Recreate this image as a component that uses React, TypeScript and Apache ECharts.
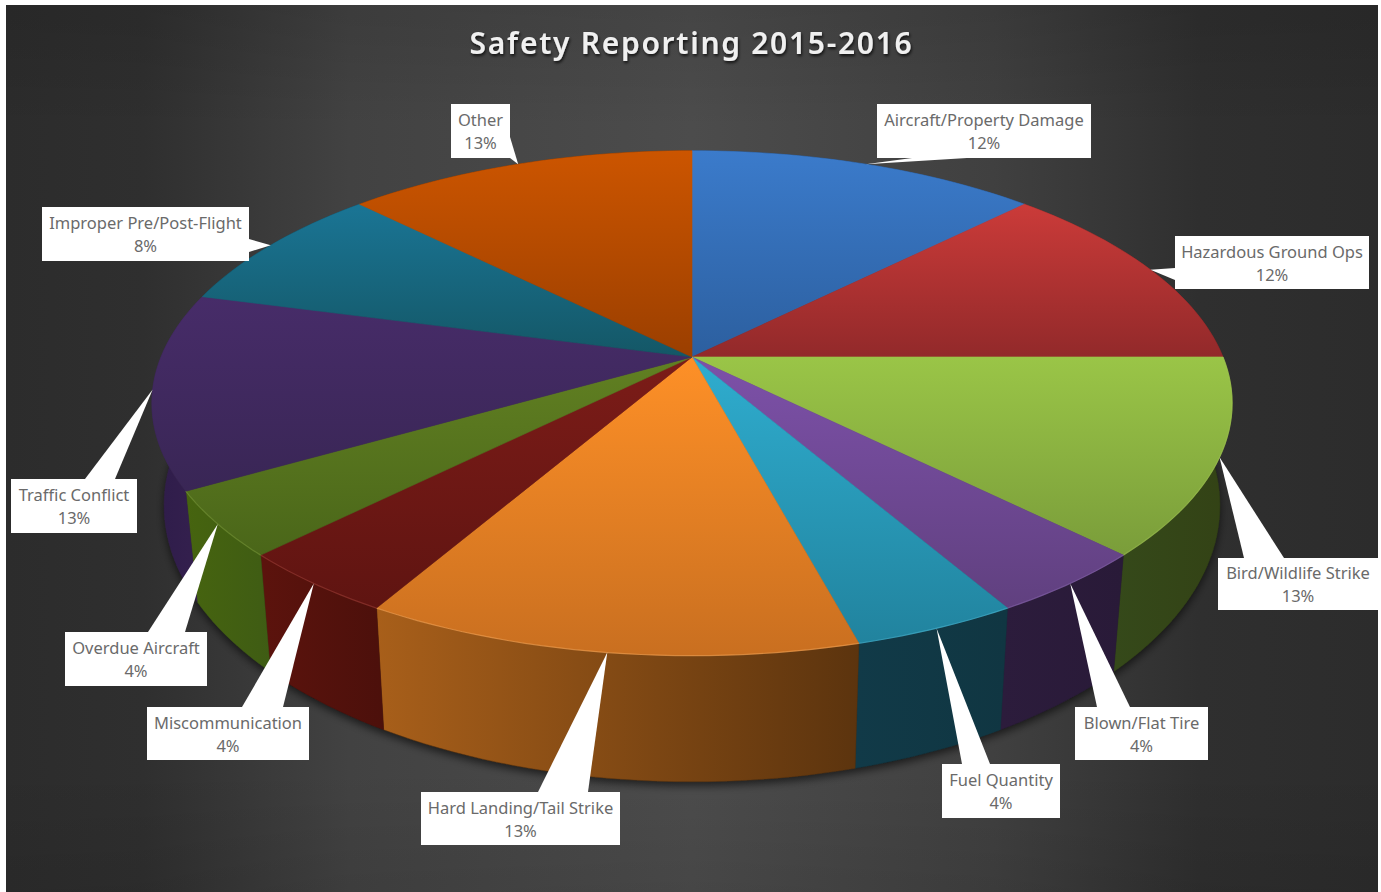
import React, { useEffect, useRef } from "react";
import * as echarts from "echarts";

const categories = ["Aircraft/Property Damage", "Hazardous Ground Ops", "Bird/Wildlife Strike", "Blown/Flat Tire", "Fuel Quantity", "Hard Landing/Tail Strike", "Miscommunication", "Overdue Aircraft", "Traffic Conflict", "Improper Pre/Post-Flight", "Other"];
const seriesValues = [12.5, 12.5, 12.5, 4.17, 4.17, 12.5, 4.17, 4.17, 12.5, 8.33, 12.5];
const percentLabels = ["12%", "12%", "13%", "4%", "4%", "13%", "4%", "4%", "13%", "8%", "13%"];
const titleText = "Safety Reporting 2015-2016";

// styling: top face gradient (light -> dark), wall gradient (left -> right)
const topColors = [
  ["#3b7bcb", "#2c5f9f"], ["#cb3b39", "#92292a"], ["#9ac547", "#7a9d3a"], ["#7d51a9", "#60407f"],
  ["#2fadcf", "#21839e"], ["#fe9027", "#c96f20"], ["#7c1c18", "#5f1411"], ["#618022", "#4a6619"],
  ["#472c69", "#392655"], ["#1a7595", "#145766"], ["#cc5500", "#9b3f00"],
];
const wallColors = [
  ["#1a3558", "#1a3558"], ["#5a1a1a", "#5a1a1a"], ["#35491a", "#334215"], ["#2c1c3c", "#291a38"],
  ["#113a48", "#103642"], ["#a85f1a", "#5c340e"], ["#5c130d", "#4c100b"], ["#46640f", "#3f5c14"],
  ["#2e1c4a", "#36214f"], ["#0d3a4a", "#0d3a4a"], ["#5a2600", "#5a2600"],
];
const rimColors = ["", "", "#a8cc58", "#8f6bb8", "#4fc0dd", "#ffb060", "#a8443c", "#7f9f3c", "", "", ""];

// layout of label boxes [x0, y0, x1, y1] and the two base points of each callout
const boxes = [
  [877, 104, 1091, 158], [1175, 236, 1369, 289], [1218, 558, 1378, 610], [1075, 707, 1208, 760],
  [942, 764, 1060, 818], [421, 792, 620, 845], [147, 707, 309, 760], [65, 632, 207, 686],
  [11, 479, 137, 533], [42, 207, 249, 261], [451, 104, 510, 158],
];
const calloutBases = [
  [[912, 158], [967, 158]], [[1175, 268], [1175, 280]], [[1244, 558], [1284, 558]], [[1097, 707], [1130, 707]],
  [[962, 764], [990, 764]], [[538, 792], [588, 792]], [[242, 707], [283, 707]], [[148, 632], [185, 632]],
  [[85, 479], [115, 479]], [[249, 239], [249, 252]], [[510, 137], [510, 158]],
];

const K = 0.183;
const TOP = { cx: 692, cy: 357, a: 531, b: 244 };
const BOTTOM = { cx: 692, cy: 455, a: 519, b: 267 };
const RAD = Math.PI / 180;

function project(p: typeof TOP, deg: number): number[] {
  const X = Math.sin(deg * RAD);
  const Y = Math.cos(deg * RAD);
  const w = 1 + K * Y;
  return [p.cx + (p.a * X) / w, p.cy - (p.b * Y) / w];
}
function arc(p: typeof TOP, from: number, to: number): number[][] {
  const n = Math.max(2, Math.ceil((to - from) / 1.5));
  const pts: number[][] = [];
  for (let i = 0; i <= n; i++) pts.push(project(p, from + ((to - from) * i) / n));
  return pts;
}

const total = seriesValues.reduce((s, v) => s + v, 0);
const starts: number[] = [];
let acc = 0;
seriesValues.forEach((v) => {
  starts.push((acc / total) * 360);
  acc += v;
});
const sweep = (v: number) => (v / total) * 360;

const vGrad = (c: string[]) => new echarts.graphic.LinearGradient(0, 0, 0, 1, [{ offset: 0, color: c[0] }, { offset: 1, color: c[1] }]);
const hGrad = (c: string[]) => new echarts.graphic.LinearGradient(0, 0, 1, 0, [{ offset: 0, color: c[0] }, { offset: 1, color: c[1] }]);

export default function App() {
  const ref = useRef<HTMLDivElement>(null);
  useEffect(() => {
    document.body.style.margin = "0";
    document.body.style.background = "#ffffff";
    const chart = echarts.init(ref.current!, null, { renderer: "svg" });
    const seriesData = categories.map((name, i) => ({ name, value: seriesValues[i] }));
    chart.setOption({
      animation: false,
      backgroundColor: "#ffffff",
      graphic: [
        {
          type: "rect",
          z: 0,
          silent: true,
          shape: { x: 6, y: 5, width: 1372, height: 887 },
          style: {
            fill: new echarts.graphic.LinearGradient(0, 0, 1, 0, [
              { offset: 0, color: "#2c2c2c" },
              { offset: 0.1, color: "#2f2f2f" },
              { offset: 0.25, color: "#424242" },
              { offset: 0.5, color: "#4c4c4c" },
              { offset: 0.72, color: "#404040" },
              { offset: 0.87, color: "#2f2f2f" },
              { offset: 1, color: "#2c2c2c" },
            ]),
          },
        },
        {
          type: "rect",
          z: 0,
          silent: true,
          shape: { x: 6, y: 5, width: 1372, height: 887 },
          style: {
            fill: new echarts.graphic.LinearGradient(0, 0, 0, 1, [
              { offset: 0, color: "rgba(0,0,0,0.1)" },
              { offset: 0.14, color: "rgba(0,0,0,0)" },
              { offset: 0.86, color: "rgba(0,0,0,0)" },
              { offset: 1, color: "rgba(0,0,0,0.08)" },
            ]),
          },
        },
        {
          type: "text",
          z: 10,
          silent: true,
          style: {
            text: titleText,
            x: 691.5,
            y: 42,
            align: "center",
            verticalAlign: "middle",
            fill: "#f0f0f0",
            fontSize: 30,
            fontWeight: 600,
            fontFamily: "'Noto Sans', sans-serif",
            textShadowColor: "rgba(0,0,0,0.75)",
            textShadowBlur: 3,
            textShadowOffsetX: 1,
            textShadowOffsetY: 2,
          },
        },
      ],
      series: [
        {
          type: "custom",
          name: "shadow",
          coordinateSystem: "none",
          z: 1,
          silent: true,
          data: [1],
          renderItem: () => ({
            type: "polygon",
            shape: { points: arc(BOTTOM, 0, 360) },
            style: { fill: "#1c1c1c", shadowColor: "rgba(0,0,0,0.6)", shadowBlur: 8, shadowOffsetY: 4, shadowOffsetX: 0 },
          }),
        },
        {
          type: "custom",
          name: "walls",
          coordinateSystem: "none",
          z: 2,
          silent: true,
          data: seriesData,
          renderItem: (params: any, api: any) => {
            const i = params.dataIndex;
            const from = starts[i];
            const to = from + sweep(api.value(0));
            const top = arc(TOP, from, to);
            const bottom = arc(BOTTOM, from, to).reverse();
            return {
              type: "polygon",
              shape: { points: [...top, ...bottom] },
              style: { fill: hGrad(wallColors[i]), stroke: wallColors[i][1], lineWidth: 0.5 },
            };
          },
        },
        {
          type: "custom",
          name: "tops",
          coordinateSystem: "none",
          z: 3,
          silent: true,
          data: seriesData,
          renderItem: (params: any, api: any) => {
            const i = params.dataIndex;
            const from = starts[i];
            const to = from + sweep(api.value(0));
            const rim = arc(TOP, from, to);
            const children: any[] = [
              {
                type: "polygon",
                shape: { points: [[TOP.cx, TOP.cy], ...rim] },
                style: { fill: vGrad(topColors[i]), stroke: vGrad(topColors[i]), lineWidth: 0.6 },
              },
            ];
            if (rimColors[i]) {
              children.push({
                type: "polyline",
                shape: { points: rim },
                style: { stroke: rimColors[i], lineWidth: 1.2, opacity: 0.5, fill: "none" },
              });
            }
            return { type: "group", children };
          },
        },
        {
          type: "custom",
          name: "labels",
          coordinateSystem: "none",
          z: 4,
          silent: true,
          data: seriesData,
          renderItem: (params: any, api: any) => {
            const i = params.dataIndex;
            const mid = starts[i] + sweep(api.value(0)) / 2;
            const tip = project(TOP, mid);
            const [x0, y0, x1, y1] = boxes[i];
            const extra = i === 10 ? [[x1, y1]] : [];
            return {
              type: "group",
              children: [
                {
                  type: "polygon",
                  shape: { points: [calloutBases[i][0], tip, calloutBases[i][1], ...extra] },
                  style: { fill: "#ffffff" },
                },
                {
                  type: "rect",
                  shape: { x: x0, y: y0, width: x1 - x0, height: y1 - y0 },
                  style: { fill: "#ffffff" },
                },
                {
                  type: "text",
                  style: {
                    text: categories[i] + "\n" + percentLabels[i],
                    x: (x0 + x1) / 2,
                    y: (y0 + y1) / 2,
                    align: "center",
                    verticalAlign: "middle",
                    fill: "#6a6a6a",
                    fontSize: 16.5,
                    lineHeight: 23,
                    fontFamily: "'Noto Sans', sans-serif",
                  },
                },
              ],
            };
          },
        },
      ],
    });
    const texts = ref.current!.querySelectorAll("text");
    texts.forEach((t) => {
      if ((t.textContent || "").indexOf("Safety") === 0) {
        (t as SVGTextElement).style.letterSpacing = "1.7px";
      }
    });
    return () => chart.dispose();
  }, []);
  return <div ref={ref} style={{ position: "absolute", left: 0, top: 0, width: 1381, height: 892 }} />;
}
